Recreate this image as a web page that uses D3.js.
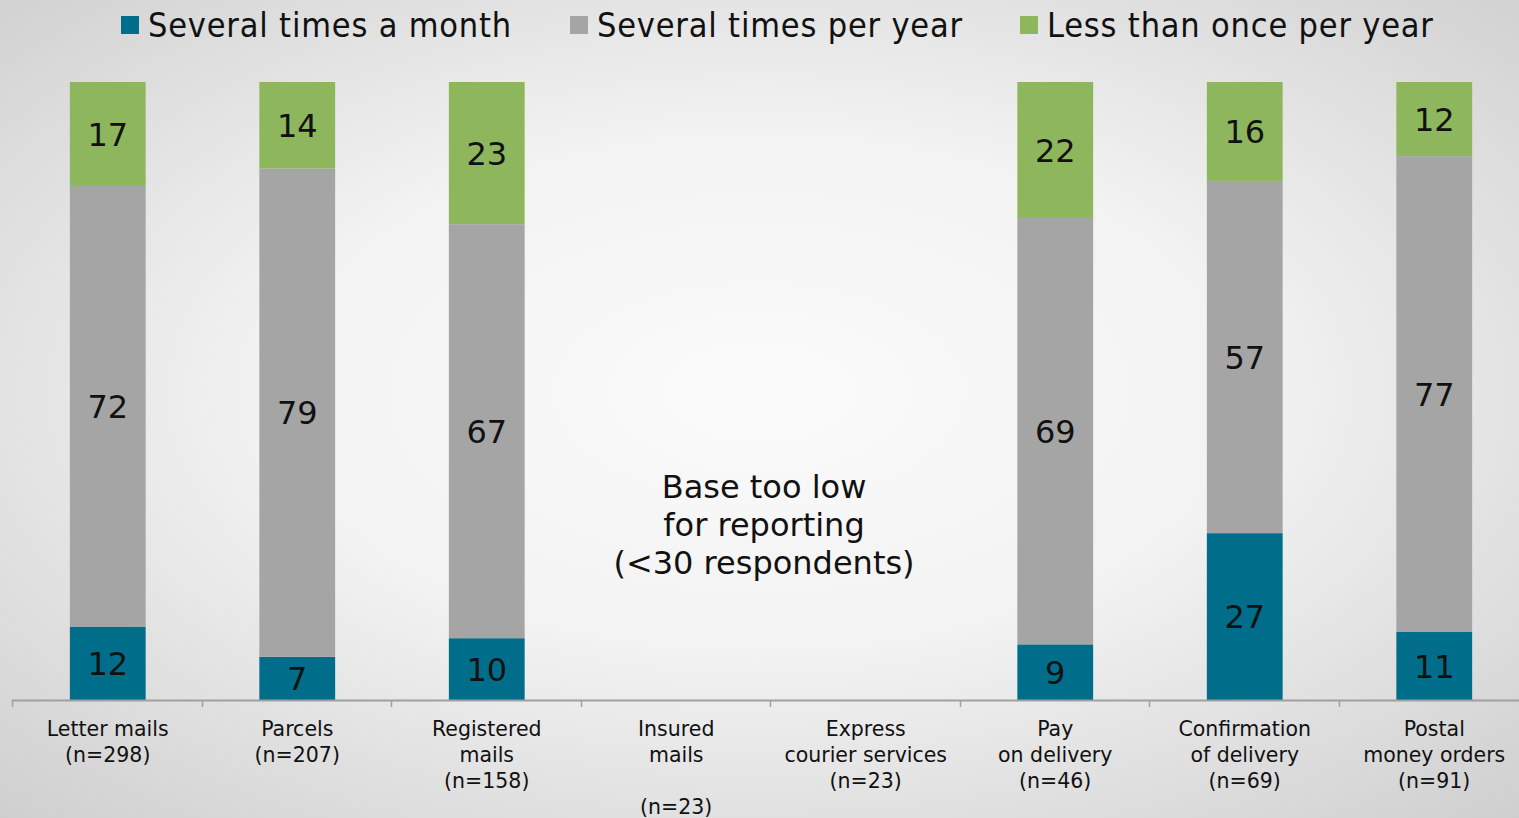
<!DOCTYPE html>
<html>
<head>
<meta charset="utf-8">
<script src="https://cdn.jsdelivr.net/npm/d3@7"></script>
<style>
  html, body { margin: 0; padding: 0; overflow: hidden; }
  svg { display: block; }
  text { font-family: 'DejaVu Sans', sans-serif; fill: #111; }
  text.legend { font-family: 'DejaVu Sans Condensed', 'DejaVu Sans', sans-serif; font-stretch: condensed; }
</style>
</head>
<body>
<svg id="chart" width="1519" height="818"></svg>
<script>
// Services shown along the x axis (each label line is a separate entry)
const categories = [
  "Letter mails", "Parcels", "Registered mails", "Insured mails",
  "Express courier services", "Pay on delivery", "Confirmation of delivery", "Postal money orders"
];
const categoryLabels = [
  ["Letter mails", "(n=298)"],
  ["Parcels", "(n=207)"],
  ["Registered", "mails", "(n=158)"],
  ["Insured", "mails", "", "(n=23)"],
  ["Express", "courier services", "(n=23)"],
  ["Pay", "on delivery", "(n=46)"],
  ["Confirmation", "of delivery", "(n=69)"],
  ["Postal", "money orders", "(n=91)"]
];
const seriesNames = ["Several times a month", "Several times per year", "Less than once per year"];
// Percent of respondents; null where the base is too low to report
const severalTimesMonth = [12, 7, 10, null, null, 9, 27, 11];
const severalTimesYear  = [72, 79, 67, null, null, 69, 57, 77];
const lessThanOnceYear  = [17, 14, 23, null, null, 22, 16, 12];
const lowBaseNote = ["Base too low", "for reporting", "(<30 respondents)"];

const colors = ["#006e8a", "#a5a5a5", "#8eb65d"];

const svg = d3.select("#chart");
const W = 1519, H = 818;

// Soft radial background
const defs = svg.append("defs");
const grad = defs.append("radialGradient").attr("id", "bg")
  .attr("cx", "50%").attr("cy", "48%").attr("r", "72%");
grad.append("stop").attr("offset", "0%").attr("stop-color", "#fbfbfb");
grad.append("stop").attr("offset", "45%").attr("stop-color", "#f2f2f2");
grad.append("stop").attr("offset", "100%").attr("stop-color", "#cfcfcf");
svg.append("rect").attr("width", W).attr("height", H).attr("fill", "url(#bg)");

const rows = categories.map((c, i) => ({
  category: c,
  [seriesNames[0]]: severalTimesMonth[i] || 0,
  [seriesNames[1]]: severalTimesYear[i] || 0,
  [seriesNames[2]]: lessThanOnceYear[i] || 0
}));
const raw = [severalTimesMonth, severalTimesYear, lessThanOnceYear];

const stacked = d3.stack().keys(seriesNames).offset(d3.stackOffsetExpand)(rows);

const x = d3.scaleBand().domain(categories).range([13, 13 + 8 * 189.5]).padding(0);
const barW = x.bandwidth() * 0.4;
const y = d3.scaleLinear().domain([0, 1]).range([700, 82]);

// Bars
const layer = svg.append("g").selectAll("g").data(stacked).join("g")
  .attr("fill", (d, i) => colors[i]);
layer.selectAll("rect")
  .data(d => d.map((v, j) => ({ v, j })).filter(o => o.v[1] - o.v[0] > 0))
  .join("rect")
  .attr("x", o => x(categories[o.j]) + (x.bandwidth() - barW) / 2)
  .attr("width", barW)
  .attr("y", o => y(o.v[1]))
  .attr("height", o => y(o.v[0]) - y(o.v[1]));

// Segment value labels
stacked.forEach((s, si) => {
  svg.append("g").selectAll("text")
    .data(s.map((v, j) => ({ v, j })).filter(o => o.v[1] - o.v[0] > 0))
    .join("text")
    .attr("x", o => x(categories[o.j]) + x.bandwidth() / 2)
    .attr("y", o => (y(o.v[0]) + y(o.v[1])) / 2)
    .attr("dy", "0.36em")
    .attr("text-anchor", "middle")
    .attr("font-size", 32)
    .text(o => raw[si][o.j]);
});

// X axis: baseline with ticks at band boundaries
const axis = svg.append("g");
axis.append("line")
  .attr("x1", 12).attr("x2", W)
  .attr("y1", 700.5).attr("y2", 700.5)
  .attr("stroke", "#a0a0a0").attr("stroke-width", 2);
axis.selectAll("line.tick")
  .data(categories)
  .join("line").attr("class", "tick")
  .attr("x1", d => Math.round(x(d)) - 0.5).attr("x2", d => Math.round(x(d)) - 0.5)
  .attr("y1", 700).attr("y2", 707)
  .attr("stroke", "#a0a0a0").attr("stroke-width", 1.5);

const labels = axis.selectAll("text.cat").data(categories).join("text")
  .attr("class", "cat")
  .attr("text-anchor", "middle")
  .attr("font-size", 20.5)
  .attr("x", d => x(d) + x.bandwidth() / 2)
  .attr("y", 736);
labels.selectAll("tspan")
  .data((d, i) => categoryLabels[i])
  .join("tspan")
  .attr("x", function () { return this.parentNode.getAttribute("x"); })
  .attr("dy", (d, i) => i === 0 ? 0 : 26)
  .text(d => d || "\u00a0");

// Note over the categories without reportable data
const noteX = (x(categories[3]) + x(categories[4]) + x.bandwidth()) / 2 - 7;
svg.append("g").selectAll("text").data(lowBaseNote).join("text")
  .attr("x", noteX)
  .attr("y", (d, i) => 486 + i * 38)
  .attr("dy", "0.36em")
  .attr("text-anchor", "middle")
  .attr("font-size", 32)
  .text(d => d);

// Legend
const legendX = [121, 570, 1020];
const legend = svg.append("g").selectAll("g").data(seriesNames).join("g")
  .attr("transform", (d, i) => `translate(${legendX[i]},0)`);
legend.append("rect").attr("x", 0).attr("y", 16).attr("width", 18).attr("height", 18)
  .attr("fill", (d, i) => colors[i]);
legend.append("text").attr("class", "legend")
  .attr("x", 27).attr("y", 37).attr("font-size", 34)
  .attr("letter-spacing", 0.8)
  .text(d => d);
</script>
</body>
</html>
